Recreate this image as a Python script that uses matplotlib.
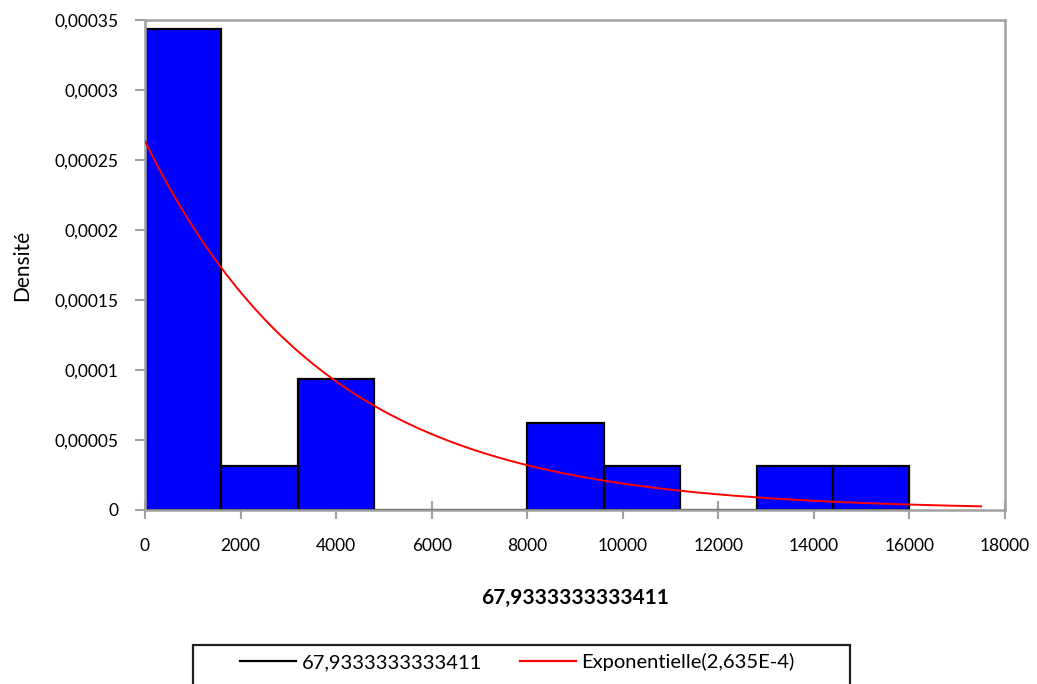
import numpy as np
import matplotlib
matplotlib.use("Agg")
import matplotlib.pyplot as plt
from matplotlib.ticker import FuncFormatter
from matplotlib.lines import Line2D
from matplotlib.patches import Rectangle

plt.rcParams['font.family'] = ['Lato', 'DejaVu Sans']

# Data
bin_edges = [0, 1600, 3200, 4800, 6400, 8000, 9600, 11200, 12800, 14400, 16000]
densities = [0.00034375, 0.00003125, 0.00009375, 0.0, 0.0, 0.0000625,
             0.00003125, 0.0, 0.00003125, 0.00003125]
rate = 2.635e-4
curve_max_x = 17500
series_name = "67,9333333333411"
fit_name = "Exponentielle(2,635E-4)"
y_label = "Densité"

W, H = 1037, 684
fig = plt.figure(figsize=(W/100, H/100), dpi=100)
ax = fig.add_axes([145/W, 1-510/H, 860/W, 490/H])

widths = np.diff(bin_edges)
ax.bar(bin_edges[:-1], densities, width=widths, align='edge',
       color='#0000ff', edgecolor='black', linewidth=1.6, zorder=2)

xs = np.linspace(0, curve_max_x, 400)
ax.plot(xs, rate*np.exp(-rate*xs), color='#ff0000', linewidth=1.4, zorder=3)

ax.set_xlim(0, 18000)
ax.set_ylim(0, 0.00035)
ax.set_xticks(np.arange(0, 18001, 2000))
ax.set_yticks(np.arange(0, 0.000351, 0.00005))

def yfmt(v, p):
    if abs(v) < 1e-12:
        return "0"
    s = ("%.5f" % v).rstrip('0')
    return s.replace('.', ',')
ax.yaxis.set_major_formatter(FuncFormatter(yfmt))
ax.xaxis.set_major_formatter(FuncFormatter(lambda v, p: "%d" % v))

for sp in ax.spines.values():
    sp.set_color('#a0a0a0')
    sp.set_linewidth(1.8)
ax.tick_params(axis='x', direction='inout', length=13, width=1.5, color='#a0a0a0',
               labelsize=12.5, labelcolor='black', pad=14)
ax.tick_params(axis='y', direction='out', length=7, width=1.5, color='#a0a0a0',
               labelsize=12.5, labelcolor='black', pad=12)

ax.set_xlabel(series_name, fontsize=15, fontweight='bold', labelpad=24)
ax.set_ylabel(y_label, fontsize=15, labelpad=16)

handles = [Line2D([], [], color='black', linewidth=1.6),
           Line2D([], [], color='#ff0000', linewidth=1.6)]
leg = fig.legend(handles, [series_name, fit_name], loc='center left',
                 bbox_to_anchor=(240/W, 1-662/H), ncol=2, fontsize=14.5,
                 frameon=False, handlelength=2.8, handletextpad=0.25,
                 columnspacing=1.9, borderpad=0, borderaxespad=0)
fig.patches.append(Rectangle((193/W, -0.05), (850-193)/W, (1-645/H)+0.05,
                             transform=fig.transFigure, fill=False,
                             edgecolor='#202020', linewidth=1.6))

fig.savefig("out.png", dpi=100)
